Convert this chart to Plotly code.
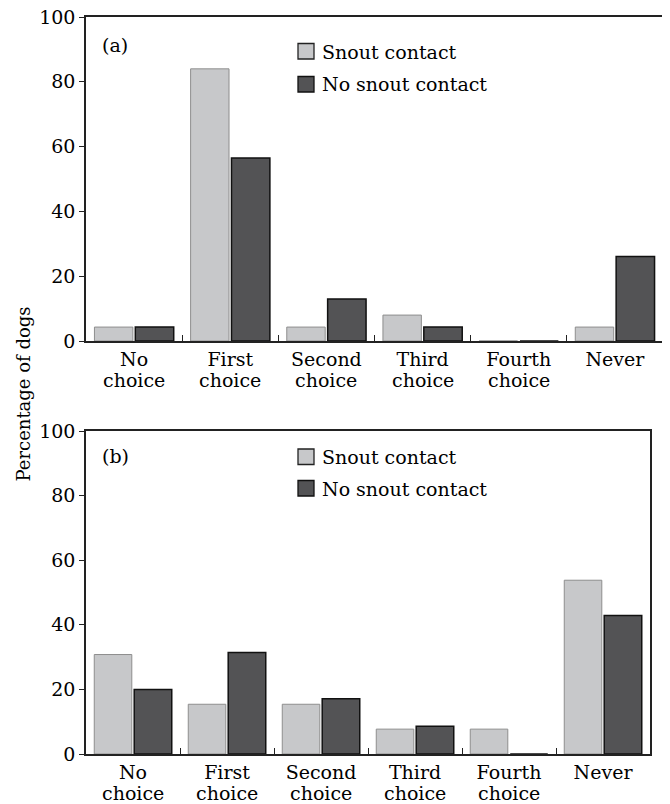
import plotly.graph_objects as go

categories = ["No choice", "First choice", "Second choice",
              "Third choice", "Fourth choice", "Never"]
tick_line1 = ["No", "First", "Second", "Third", "Fourth", "Never"]
tick_line2 = ["choice", "choice", "choice", "choice", "choice", ""]
series_names = ["Snout contact", "No snout contact"]
a_snout = [4.3, 84.0, 4.3, 8.0, 0.0, 4.3]
a_no_snout = [4.3, 56.5, 13.0, 4.3, 0.0, 26.1]
b_snout = [30.8, 15.4, 15.4, 7.7, 7.7, 53.8]
b_no_snout = [20.0, 31.4, 17.1, 8.6, 0.0, 42.9]
y_ticks = [0, 20, 40, 60, 80, 100]
panel_labels = ["(a)", "(b)"]
y_title = "Percentage of dogs"

# page body has an 8px margin at top-left; compensate so the figure lines up
OFF = 8
W, H = 670 - OFF, 804 - OFF


def px(x):
    return (x - OFF) / W


def py(y):
    return 1 - (y - OFF) / H


FONT = "DejaVu Serif"
FS = 19
TXT = "#000000"
LIGHT = "#c7c8ca"
LIGHT_LINE = "#8e8e8e"
DARK = "#535355"
DARK_LINE = "#111111"
FRAME = "#222222"

fig = go.Figure()

panels = [
    dict(x="x", y="y", snout=a_snout, nos=a_no_snout,
         xdom=[px(86), px(663)], ydom=[py(341), py(17)]),
    dict(x="x2", y="y2", snout=b_snout, nos=b_no_snout,
         xdom=[px(86), px(650)], ydom=[py(754), py(431)]),
]

for p in panels:
    fig.add_trace(go.Bar(x=categories, y=p["snout"], name=series_names[0],
                         xaxis=p["x"], yaxis=p["y"], showlegend=False,
                         marker=dict(color=LIGHT, line=dict(color=LIGHT_LINE, width=1))))
    fig.add_trace(go.Bar(x=categories, y=p["nos"], name=series_names[1],
                         xaxis=p["x"], yaxis=p["y"], showlegend=False,
                         marker=dict(color=DARK, line=dict(color=DARK_LINE, width=1.5))))

axis_common_x = dict(type="category", categoryorder="array",
                     categoryarray=categories,
                     tickvals=categories, ticktext=tick_line1,
                     showgrid=False, zeroline=False, automargin=False,
                     ticklabeloverflow="allow",
                     showline=True, linecolor=FRAME, linewidth=1.5, mirror=True,
                     ticks="inside", tickson="boundaries", ticklen=6,
                     tickcolor=FRAME, tickwidth=1.2,
                     tickfont=dict(family=FONT, size=FS, color=TXT))
axis_common_y = dict(range=[0, 100], tickvals=y_ticks, showgrid=False,
                     zeroline=False, showline=True, linecolor=FRAME,
                     automargin=False, ticklabeloverflow="allow",
                     linewidth=1.5, mirror=True, ticks="outside", ticklen=5,
                     tickcolor=FRAME, tickwidth=1.2,
                     tickfont=dict(family=FONT, size=FS, color=TXT))

fig.update_layout(
    width=W, height=H,
    margin=dict(l=0, r=0, t=0, b=0, autoexpand=False),
    paper_bgcolor="white", plot_bgcolor="white",
    barmode="group", bargap=0.15, bargroupgap=0.06,
    showlegend=False,
    font=dict(family=FONT, size=FS, color=TXT),
    xaxis=dict(domain=panels[0]["xdom"], anchor="y", **axis_common_x),
    yaxis=dict(domain=panels[0]["ydom"], anchor="x", **axis_common_y),
    xaxis2=dict(domain=panels[1]["xdom"], anchor="y2", **axis_common_x),
    yaxis2=dict(domain=panels[1]["ydom"], anchor="x2", **axis_common_y),
)

# panel labels and manual legends
legend_pos = [
    dict(box_tops=[43.5, 76.5], label_y=45),
    dict(box_tops=[449, 480.5], label_y=456),
]
shapes = []
annotations = []
for i, (p, lp) in enumerate(zip(panels, legend_pos)):
    annotations.append(dict(text=panel_labels[i], xref="paper", yref="paper",
                            x=px(100), y=py(lp["label_y"]),
                            xanchor="left", yanchor="middle", showarrow=False,
                            font=dict(family=FONT, size=FS, color=TXT)))
    fills = [(LIGHT, "#222"), (DARK, "#111")]
    for j, top in enumerate(lp["box_tops"]):
        shapes.append(dict(type="rect", xref="paper", yref="paper",
                           x0=px(298), x1=px(314),
                           y0=py(top + 15.5), y1=py(top),
                           fillcolor=fills[j][0],
                           line=dict(color=fills[j][1], width=1.3)))
        annotations.append(dict(text=series_names[j], xref="paper", yref="paper",
                                x=px(320), y=py(top + 8),
                                xanchor="left", yanchor="middle", showarrow=False,
                                font=dict(family=FONT, size=FS, color=TXT)))
    # second line of the category labels, placed through the category axis
    for cat, line2 in zip(categories, tick_line2):
        if line2:
            annotations.append(dict(text=line2, xref=p["x"], x=cat,
                                    yref=p["y"] + " domain", y=0,
                                    yshift=-39, xanchor="center",
                                    yanchor="middle", showarrow=False,
                                    font=dict(family=FONT, size=FS, color=TXT)))

annotations.append(dict(text=y_title, xref="paper", yref="paper",
                        x=px(22.5), y=py(394), textangle=-90,
                        xanchor="center", yanchor="middle", showarrow=False,
                        font=dict(family=FONT, size=18, color=TXT)))

fig.update_layout(shapes=shapes, annotations=annotations)

fig.write_html("out.html")
